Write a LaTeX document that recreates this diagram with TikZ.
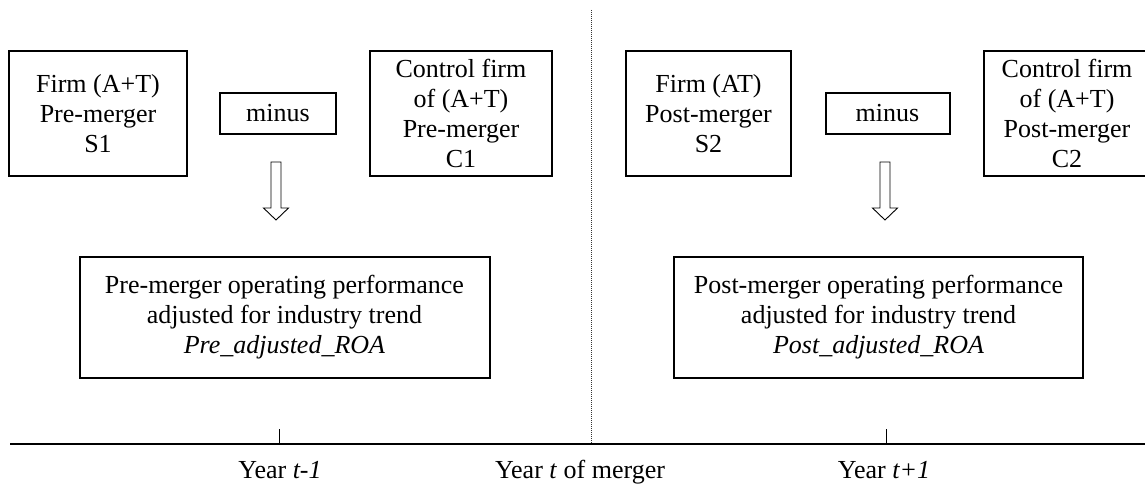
\documentclass[tikz,border=0pt]{standalone}
\usepackage{fontspec}
\setmainfont{Liberation Serif}
\begin{document}
\begin{tikzpicture}[x=1pt,y=-1pt,
  box/.style={draw,line width=2pt,align=center,inner sep=0pt,font=\fontsize{26}{30}\selectfont},
  lbl/.style={inner sep=0pt,anchor=base,font=\fontsize{26}{30}\selectfont},
  hollow/.style={draw,line width=0.9pt,fill=white}]
\useasboundingbox (0,0) rectangle (1145,486);
\clip (0,0) rectangle (1145,486);
% left half
\node[box,minimum width=178pt,minimum height=125pt] (s1) at (98,113.5) {Firm (A+T)\\Pre-merger\\S1};
\node[box,minimum width=116pt,minimum height=41pt] (m1) at (278,113.5) {minus};
\node[box,minimum width=182pt,minimum height=125pt] (c1) at (461,113.5) {Control firm\\of (A+T)\\Pre-merger\\C1};
\node[box,minimum width=410pt,minimum height=121pt] (p1) at (284.5,317.5) {Pre-merger operating performance\\adjusted for industry trend\\\textit{Pre\_adjusted\_ROA}};
% right half
\node[box,minimum width=165pt,minimum height=125pt] (s2) at (708.5,113.5) {Firm (AT)\\Post-merger\\S2};
\node[box,minimum width=124pt,minimum height=41pt] (m2) at (887.5,113.5) {minus};
\node[box,minimum width=166pt,minimum height=125pt] (c2) at (1067,113.5) {Control firm\\of (A+T)\\Post-merger\\C2};
\node[box,minimum width=409pt,minimum height=121pt] (p2) at (878.5,317.5) {Post-merger operating performance\\adjusted for industry trend\\\textit{Post\_adjusted\_ROA}};
% hollow block arrows
\coordinate (a1) at (276,162);
\coordinate (a2) at (885,162);
\foreach \a in {a1,a2}{
  \draw[hollow] (\a) ++(-5,0) -- ++(10,0) -- ++(0,46) -- ++(7.5,0) -- ++(-12.5,12) -- ++(-12.5,-12) -- ++(7.5,0) -- cycle;
}
% timeline
\coordinate (axL) at (10,444);
\coordinate (axR) at (1145,444);
\coordinate (t0) at (591,444);
\coordinate (top) at (591,10);
\coordinate (tm) at (279,444);
\coordinate (tp) at (886,444);
\draw[line width=0.8pt,dash pattern=on 1pt off 1pt,black!80] (top) -- (t0);
\draw[line width=1pt] (tm) -- ++(0,-15);
\draw[line width=1pt] (tp) -- ++(0,-15);
\draw[line width=2pt] (axL) -- (axR);
\node[lbl] (y1) at (280,478) {Year \textit{t-1}};
\node[lbl] (y2) at (580,478) {Year \textit{t} of merger};
\node[lbl] (y3) at (884,478) {Year \textit{t+1}};
\end{tikzpicture}
\end{document}
